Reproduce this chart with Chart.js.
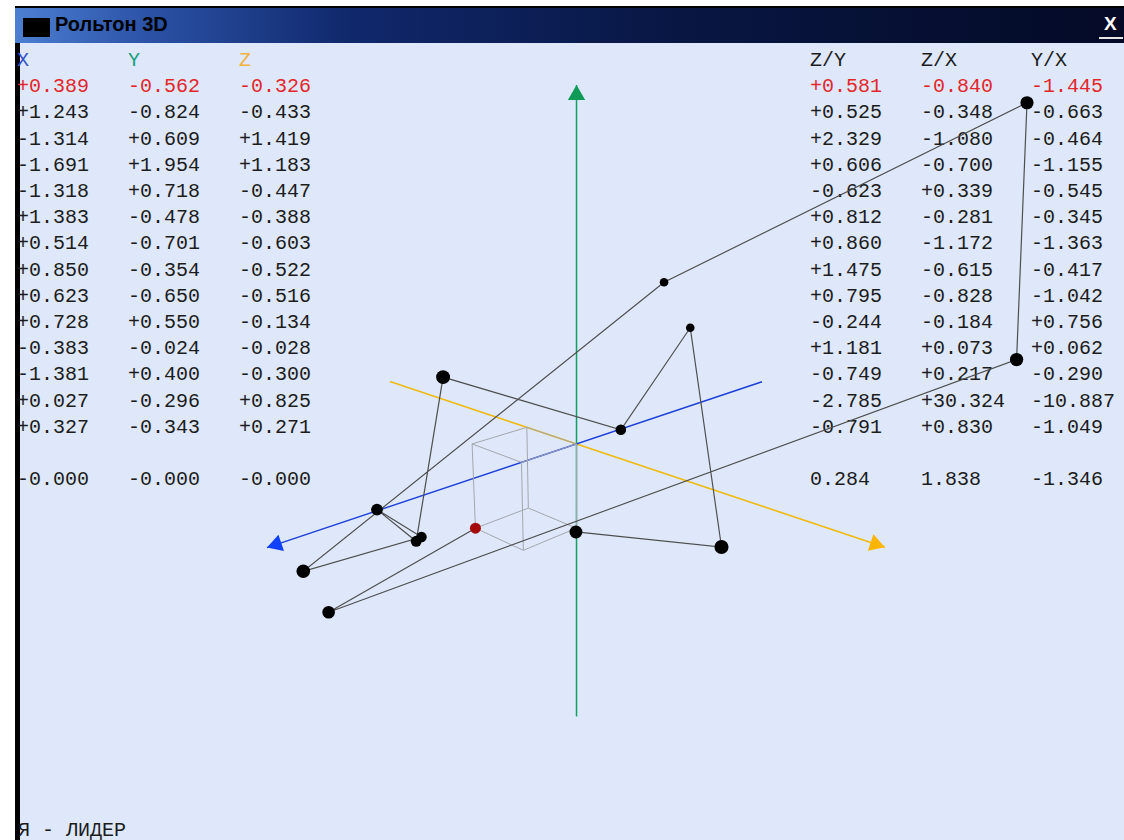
<!DOCTYPE html>
<html><head><meta charset="utf-8">
<script src="https://cdn.jsdelivr.net/npm/chart.js@4.4.1/dist/chart.umd.min.js"></script>
<style>
html,body{margin:0;padding:0;background:#fff;}
#page{position:relative;width:1124px;height:840px;overflow:hidden;background:#fff;}
#frame{position:absolute;left:15px;top:6px;width:1109px;height:834px;background:#000;}
#client{position:absolute;left:20px;top:43px;width:1104px;height:797px;background:#dee8fa;}
#title{position:absolute;left:15px;top:8px;width:1109px;height:35px;background:linear-gradient(to right,#4c7fd2 0%,#2b52a6 12%,#10286c 30%,#081642 60%,#040a26 100%);}
#icon{position:absolute;left:23px;top:18px;width:27px;height:19px;background:#000;}
#ttext{position:absolute;left:55px;top:13px;font:bold 20px "Liberation Sans",Arial,sans-serif;color:#000;}
#close{position:absolute;left:1104px;top:13px;font:bold 19px "Liberation Sans",Arial,sans-serif;color:#fff;}
#closeline{position:absolute;left:1099px;top:37px;width:24px;height:2px;background:#e6e6e6;}
.col{position:absolute;top:48px;font:20px "Liberation Mono",monospace;line-height:26.2px;white-space:pre;color:#1c1c1c;}
#leader{position:absolute;left:18px;top:819px;font:20px "Liberation Mono",monospace;color:#1c1c1c;white-space:pre;}
#chart{position:absolute;left:0;top:0;}
</style></head>
<body><div id="page">
<div id="frame"></div><div id="client"></div>
<div id="title"></div><div id="icon"></div><div id="ttext">Рольтон 3D</div>
<div id="close">X</div><div id="closeline"></div>
<div class="col" id="cX" style="left:17px"></div>
<div class="col" id="cY" style="left:128px"></div>
<div class="col" id="cZ" style="left:239px"></div>
<div class="col" id="cZY" style="left:810px"></div>
<div class="col" id="cZX" style="left:921px"></div>
<div class="col" id="cYX" style="left:1031px"></div>
<div id="leader">Я - ЛИДЕР</div>
<canvas id="chart" width="1124" height="840"></canvas>
</div>
<script>
// ---- data ----
const X = [0.389, 1.243, -1.314, -1.691, -1.318, 1.383, 0.514, 0.850, 0.623, 0.728, -0.383, -1.381, 0.027, 0.327];
const Y = [-0.562, -0.824, 0.609, 1.954, 0.718, -0.478, -0.701, -0.354, -0.650, 0.550, -0.024, 0.400, -0.296, -0.343];
const Z = [-0.326, -0.433, 1.419, 1.183, -0.447, -0.388, -0.603, -0.522, -0.516, -0.134, -0.028, -0.300, 0.825, 0.271];
const ZY = [0.581, 0.525, 2.329, 0.606, -0.623, 0.812, 0.860, 1.475, 0.795, -0.244, 1.181, -0.749, -2.785, -0.791];
const ZX = [-0.840, -0.348, -1.080, -0.700, 0.339, -0.281, -1.172, -0.615, -0.828, -0.184, 0.073, 0.217, 30.324, 0.830];
const YX = [-1.445, -0.663, -0.464, -1.155, -0.545, -0.345, -1.363, -0.417, -1.042, 0.756, 0.062, -0.290, -10.887, -1.049];
const meanXYZ = ['-0.000', '-0.000', '-0.000'];
const meanRatio = ['0.284', '1.838', '-1.346'];
const headers = ['X', 'Y', 'Z', 'Z/Y', 'Z/X', 'Y/X'];
// axis extents in data units (negative end, positive end)
const axisX = [-1.693, 1.769];
const axisY = [-1.960, 2.040];
const axisZ = [-1.425, 1.482];

// ---- view settings: perspective camera (3x4 projective matrix) ----
const CAM = [-134.07768, 0.02511, 159.99627, -0.02934,
             44.92661, -154.79758, 53.56945, -0.07220,
             -0.13204, -0.05896, -0.15603];
const CENTER = [576.5, 444];

function fmt(v){ return (v < 0 ? '-' : '+') + Math.abs(v).toFixed(3); }
function fillCol(id, head, headColor, vals, mean){
  let h = '<span style="color:' + headColor + '">' + head + '</span>\n';
  vals.forEach((v, i) => {
    const t = fmt(v);
    h += i === 0 ? '<span style="color:#e3262c">' + t + '</span>\n' : t + '\n';
  });
  h += '\n' + mean;
  document.getElementById(id).innerHTML = h;
}
fillCol('cX', headers[0], '#3553c6', X, meanXYZ[0]);
fillCol('cY', headers[1], '#16a07c', Y, meanXYZ[1]);
fillCol('cZ', headers[2], '#f2b23c', Z, meanXYZ[2]);
fillCol('cZY', headers[3], '#1c1c1c', ZY, meanRatio[0]);
fillCol('cZX', headers[4], '#1c1c1c', ZX, meanRatio[1]);
fillCol('cYX', headers[5], '#1c1c1c', YX, meanRatio[2]);

function proj(x, y, z){
  const P = CAM;
  const w = P[8]*x + P[9]*y + P[10]*z + 1;
  return { x: CENTER[0] + (P[0]*x + P[1]*y + P[2]*z + P[3]) / w,
           y: CENTER[1] + (P[4]*x + P[5]*y + P[6]*z + P[7]) / w, w: w };
}

const pts = X.map((x, i) => proj(x, Y[i], Z[i]));
const radii = pts.map(p => 5.8 * Math.pow(1 / p.w, 1.6));
const colors = pts.map((p, i) => i === 0 ? '#a40a0a' : '#000000');

// bounding box of the first (red) point against the origin
const b = [[0, X[0]], [0, Y[0]], [0, Z[0]]];
const edges = [];
for (let i = 0; i < 2; i++) for (let j = 0; j < 2; j++) {
  edges.push([[b[0][0], b[1][i], b[2][j]], [b[0][1], b[1][i], b[2][j]]]);
  edges.push([[b[0][i], b[1][0], b[2][j]], [b[0][i], b[1][1], b[2][j]]]);
  edges.push([[b[0][i], b[1][j], b[2][0]], [b[0][i], b[1][j], b[2][1]]]);
}
const edgeSets = edges.map(e => ({ data: e.map(c => proj(c[0], c[1], c[2])), showLine: true, borderColor: '#a3a6ad', borderWidth: 1, pointRadius: 0, order: 3 }));

const axes = [
  { a: [axisX[0], 0, 0], b: [axisX[1], 0, 0], color: '#1b3fd8', head: '#1240ff' },
  { a: [0, axisY[0], 0], b: [0, axisY[1], 0], color: '#12a063', head: '#0f9a55' },
  { a: [0, 0, axisZ[0]], b: [0, 0, axisZ[1]], color: '#f0b90c', head: '#fbb400' }
];
const headR = 10;
const axisSets = axes.map(ax => ({ data: [proj(...ax.a), proj(...ax.b)], showLine: true, borderColor: ax.color, borderWidth: 1.5, pointRadius: 0, order: 4 }));
const heads = axes.map(ax => {
  const p0 = proj(...ax.a), p1 = proj(...ax.b);
  const dx = p1.x - p0.x, dy = p1.y - p0.y, L = Math.hypot(dx, dy);
  return { x: p1.x - dx / L * headR, y: p1.y - dy / L * headR, rot: Math.atan2(dx, -dy) * 180 / Math.PI, c: ax.head };
});

new Chart(document.getElementById('chart'), {
  type: 'scatter',
  data: { datasets: [
    { data: pts, pointRadius: radii, pointBackgroundColor: colors, pointBorderWidth: 0, showLine: false, order: 0 },
    { data: pts, showLine: true, borderColor: '#4e4e4e', borderWidth: 1.2, pointRadius: 0, order: 1 },
    { data: heads.map(h => ({ x: h.x, y: h.y })), pointStyle: 'triangle', pointRadius: headR, pointRotation: heads.map(h => h.rot), pointBackgroundColor: heads.map(h => h.c), pointBorderWidth: 0, showLine: false, order: 2 },
    ...edgeSets, ...axisSets
  ] },
  options: {
    responsive: false, animation: false, events: [],
    layout: { padding: 0, autoPadding: false },
    plugins: { legend: { display: false }, tooltip: { enabled: false } },
    scales: {
      x: { type: 'linear', min: 0, max: 1124, display: false },
      y: { type: 'linear', min: 0, max: 840, reverse: true, display: false }
    }
  }
});
</script>
</body></html>
